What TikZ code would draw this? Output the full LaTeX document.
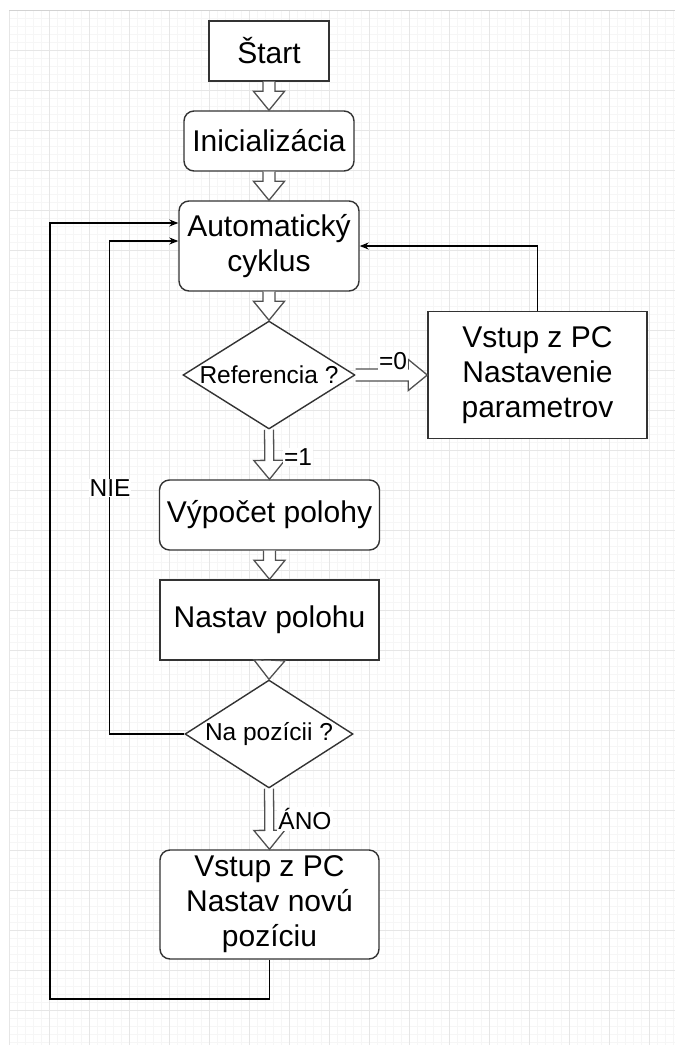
\documentclass[tikz,border=0pt]{standalone}
\usepackage{fontspec}
\setmainfont{Liberation Sans}
\usepackage{xcolor}
\usetikzlibrary{positioning,calc,shapes.geometric,arrows.meta}
\definecolor{boxLine}{RGB}{51,51,51}
\definecolor{fatLine}{RGB}{80,80,80}
\definecolor{gridMajor}{RGB}{230,230,230}
\definecolor{gridMinor}{RGB}{246,246,246}
\tikzset{
    stepbox/.style={rectangle, draw=boxLine, line width=1.4pt, fill=white, text=black,
        font=\fontsize{30}{35}\selectfont, align=center, inner sep=0pt},
    roundbox/.style={stepbox, rounded corners=10pt},
    decision/.style={diamond, draw=boxLine, line width=1.4pt, fill=white, inner sep=0pt},
    qtext/.style={text=black, font=\fontsize{24.5}{29}\selectfont, inner sep=0pt},
    lbl/.style={fill=white, inner sep=1pt, font=\fontsize{24.5}{29}\selectfont},
    fatarrow/.style={draw=fatLine, line width=1.3pt, fill=white, line join=miter},
    link/.style={draw=black, line width=1.1pt, -{Stealth[length=9pt,width=7pt]}}
}
% hrubá šípka medzi dvoma bodmi
\newcommand{\fatarrow}[3][6pt]{%
    \coordinate (fa-s) at (#2);
    \coordinate (fa-e) at (#3);
    \coordinate (fa-h) at ($(fa-e)!19pt!(fa-s)$);
    \path[fatarrow] ($(fa-s)!#1!90:(fa-e)$) -- ($(fa-h)!#1!90:(fa-e)$)
        -- ($(fa-h)!15.5pt!90:(fa-e)$) -- (fa-e) -- ($(fa-h)!15.5pt!-90:(fa-e)$)
        -- ($(fa-h)!#1!-90:(fa-e)$) -- ($(fa-s)!#1!-90:(fa-e)$);
}
\begin{document}
\begin{tikzpicture}[x=1pt, y=-1pt]
        % --- PODKLAD (mriežka) ---
        \useasboundingbox (0,0) rectangle (675,1045);
        \fill[white] (0,0) rectangle (675,1045);
        \foreach \gx in {9,17,...,675} \draw[gridMinor, line width=0.8pt] (\gx,10) -- (\gx,1045);
        \foreach \gy in {10,18,...,1045} \draw[gridMinor, line width=0.8pt] (9,\gy) -- (675,\gy);
        \foreach \gx in {9,49,...,649} \draw[gridMajor, line width=1pt] (\gx,10) -- (\gx,1045);
        \foreach \gy in {50,90,...,1010} \draw[gridMajor, line width=1pt] (9,\gy) -- (675,\gy);
        \draw[gray!35, line width=1pt] (9,10) -- (675,10);

        % --- BLOKY ---
        \node[stepbox, minimum width=120pt, minimum height=60pt] (start) at (269,51) {Štart};
        \node[roundbox, minimum width=170pt, minimum height=60pt] (init) at (269,141) {Inicializácia};
        \node[roundbox, minimum width=180pt, minimum height=90pt] (auto) at (269,246) {Automatický\\cyklus};
        \node[decision, minimum width=172pt, minimum height=108pt,
            label={[qtext]center:Referencia ?}] (ref) at (269,375) {};
        \node[stepbox, minimum width=219pt, minimum height=127pt] (vstup1) at (537.5,375) {Vstup z PC\\Nastavenie\\parametrov};
        \node[roundbox, minimum width=220pt, minimum height=70pt] (vypocet) at (269.5,515) {Výpočet polohy};
        \node[stepbox, minimum width=219pt, minimum height=80pt] (nastav) at (269.5,620) {Nastav polohu};
        \node[decision, minimum width=168pt, minimum height=108pt,
            label={[qtext]center:Na pozícii ?}] (napoz) at (269,734) {};
        \node[roundbox, minimum width=219pt, minimum height=109pt] (vstup2) at (269.5,904.5) {Vstup z PC\\Nastav novú\\pozíciu};

        % --- HRUBÉ ŠÍPKY ---
        \fatarrow{start.south}{init.north}
        \fatarrow{init.south}{auto.north}
        \fatarrow{auto.south}{ref.north}
        \fatarrow{ref.east}{vstup1.west}
        \fatarrow[4.5pt]{ref.south}{vypocet.north}
        \fatarrow{vypocet.south}{nastav.north}
        \fatarrow{nastav.south}{napoz.north}
        \fatarrow[4.5pt]{napoz.south}{vstup2.north}

        % --- SPÄTNÉ VETVY ---
        \coordinate (loopcorner) at (50,999);
        \draw[link] (vstup1.north) |- (auto.east);
        \draw[link] (napoz.west) -- ++(-75,0) |- ($(auto.west)+(0,-5)$);
        \draw[link] (vstup2.south) |- (loopcorner) |- ($(auto.west)+(0,-23)$);

        % --- POPISY ---
        \node[lbl] (eq0) at (393,361) {=0};
        \node[lbl] (eq1) at (298,457) {=1};
        \node[lbl] (nie) at (110,488) {NIE};
        \node[lbl] (ano) at (305,819) {ÁNO};
    \end{tikzpicture}
\end{document}
